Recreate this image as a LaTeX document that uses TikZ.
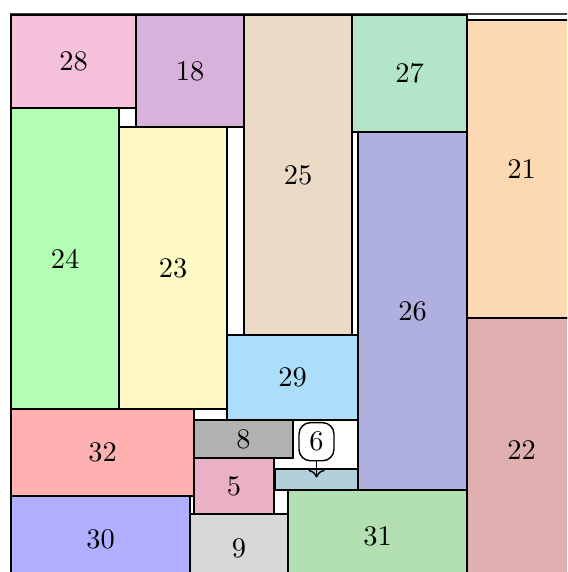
\documentclass[tikz,border=0pt]{standalone}
\usepackage{tikz}
\usetikzlibrary{arrows.meta}
\definecolor{tilepink}{RGB}{246,193,218}
\definecolor{tilelavender}{RGB}{216,178,218}
\definecolor{tilebeige}{RGB}{234,218,198}
\definecolor{tilemint}{RGB}{179,230,201}
\definecolor{tilepeach}{RGB}{252,217,178}
\definecolor{tilegreen}{RGB}{179,255,179}
\definecolor{tileyellow}{RGB}{255,249,196}
\definecolor{tileperiwinkle}{RGB}{176,176,224}
\definecolor{tilesky}{RGB}{170,222,250}
\definecolor{tilerose}{RGB}{224,176,176}
\definecolor{tilesalmon}{RGB}{255,176,176}
\definecolor{tilegray}{RGB}{178,178,178}
\definecolor{tilemauve}{RGB}{234,176,198}
\definecolor{tilesteel}{RGB}{178,208,220}
\definecolor{tileblue}{RGB}{176,176,255}
\definecolor{tilelight}{RGB}{216,216,216}
\definecolor{tilesage}{RGB}{178,224,178}
\tikzset{
  tile/.style={draw=black,line width=0.5pt},
  tilelabel/.style={inner sep=0pt},
  pinbox/.style={draw=black,rounded corners=4pt,inner sep=0pt,
    minimum width=12.3pt,minimum height=13.4pt,line width=0.5pt},
  pinarrow/.style={->,draw=black,line width=0.5pt},
  outerframe/.style={draw=black!75,line width=0.6pt}
}
\newcommand{\tile}[7]{%
  \filldraw[tile,fill=#6] (#2,#3) rectangle (#4,#5);
  \node[tilelabel] (#1) at ({(#2+#4)/2},{(#3+#5)/2}) {#7};
}

\begin{document}
\begin{tikzpicture}[x=0.352pt,y=-0.352pt]
  \useasboundingbox (0,0) rectangle (567,572);
  \clip (0,0) rectangle (567,572);
  \fill[white] (0,0) rectangle (567,572);

  % outer frame
  \draw[outerframe] (11,14) rectangle (576,582);

  % top band
  \tile{t28}{11}{15}{136}{108}{tilepink}{28}
  \tile{t18}{136}{15}{244}{127}{tilelavender}{18}
  \tile{t25}{244}{15}{352}{335}{tilebeige}{25}
  \tile{t27}{352}{15}{467}{132}{tilemint}{27}
  \tile{t21}{467}{20}{576}{318}{tilepeach}{21}

  % middle band
  \tile{t24}{11}{108}{119}{409}{tilegreen}{24}
  \tile{t23}{119}{127}{227}{409}{tileyellow}{23}
  \tile{t26}{358}{132}{467}{490}{tileperiwinkle}{26}
  \tile{t29}{227}{335}{358}{420}{tilesky}{29}
  \tile{t22}{467}{318}{576}{582}{tilerose}{22}

  % bottom band
  \tile{t32}{11}{409}{194}{496}{tilesalmon}{32}
  \tile{t8}{194}{420}{293}{458}{tilegray}{8}
  \tile{t5}{194}{458}{274}{514}{tilemauve}{5}
  \tile{t6}{275}{469}{358}{490}{tilesteel}{}
  \tile{t30}{11}{496}{190}{582}{tileblue}{30}
  \tile{t9}{190}{514}{288}{582}{tilelight}{9}
  \tile{t31}{288}{490}{467}{582}{tilesage}{31}

  % label of the thin tile
  \node[pinbox] (p6) at (316.5,441.7) {6};
  \draw[pinarrow] (p6) -- (t6);
\end{tikzpicture}
\end{document}
